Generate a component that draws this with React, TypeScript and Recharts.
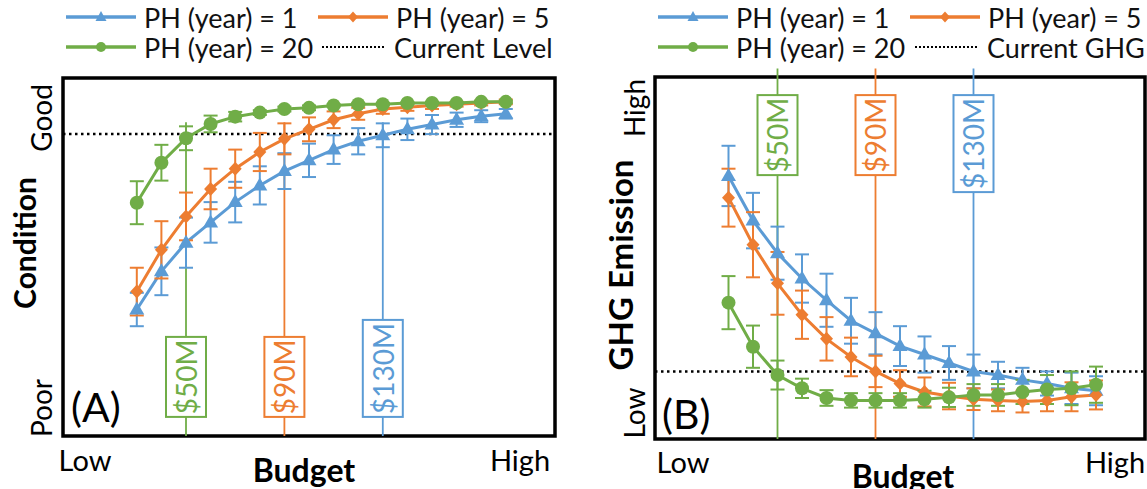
import React from "react";
import {
  LineChart,
  Line,
  XAxis,
  YAxis,
  CartesianGrid,
  ErrorBar,
  ReferenceLine,
  ReferenceArea,
  ReferenceDot,
} from "recharts";

// ─── Data ────────────────────────────────────────────────────────────────────
const budgets = [30, 40, 50, 60, 70, 80, 90, 100, 110, 120, 130, 140, 150, 160, 170, 180];

// (A) condition, 0 = Poor .. 3 = Good
const condPH1 = [1.06, 1.38, 1.62, 1.79, 1.96, 2.1, 2.22, 2.31, 2.4, 2.47, 2.52, 2.57, 2.61, 2.65, 2.68, 2.7];
const condPH1Err = [0.14, 0.2, 0.21, 0.17, 0.17, 0.16, 0.15, 0.14, 0.12, 0.11, 0.1, 0.09, 0.08, 0.06, 0.05, 0.04];
const condPH5 = [1.21, 1.56, 1.84, 2.07, 2.24, 2.38, 2.49, 2.57, 2.65, 2.7, 2.74, 2.755, 2.77, 2.78, 2.79, 2.8];
const condPH5Err = [0.2, 0.24, 0.2, 0.17, 0.16, 0.16, 0.13, 0.1, 0.07, 0.05, 0.04, 0.03, 0.03, 0.02, 0.02, 0.02];
const condPH20 = [1.955, 2.29, 2.495, 2.615, 2.676, 2.71, 2.74, 2.75, 2.77, 2.78, 2.78, 2.79, 2.79, 2.79, 2.8, 2.8];
const condPH20Err = [0.18, 0.15, 0.1, 0.07, 0.04, 0.02, 0.02, 0.02, 0.01, 0.01, 0.01, 0.01, 0.01, 0.01, 0.01, 0.01];
const currentLevel = 2.53;

// (B) GHG emission, 0 = Low .. 3 = High
const ghgPH1 = [2.18, 1.81, 1.54, 1.33, 1.15, 0.98, 0.876, 0.77, 0.7, 0.63, 0.56, 0.53, 0.49, 0.46, 0.42, 0.4];
const ghgPH1Err = [0.25, 0.23, 0.22, 0.2, 0.22, 0.19, 0.175, 0.165, 0.15, 0.14, 0.14, 0.11, 0.1, 0.1, 0.13, 0.12];
const ghgPH5 = [2.0, 1.61, 1.29, 1.03, 0.83, 0.68, 0.56, 0.46, 0.39, 0.356, 0.33, 0.32, 0.31, 0.32, 0.35, 0.365];
const ghgPH5Err = [0.24, 0.27, 0.26, 0.2, 0.18, 0.16, 0.13, 0.11, 0.12, 0.11, 0.09, 0.09, 0.09, 0.09, 0.12, 0.12];
const ghgPH20 = [1.13, 0.765, 0.53, 0.42, 0.34, 0.32, 0.32, 0.32, 0.33, 0.345, 0.365, 0.365, 0.39, 0.41, 0.42, 0.45];
const ghgPH20Err = [0.22, 0.175, 0.12, 0.08, 0.065, 0.06, 0.06, 0.06, 0.07, 0.08, 0.09, 0.09, 0.1, 0.12, 0.14, 0.15];
const currentGhg = 0.56;

const markBudgets = [50, 90, 130];
const markLabels = ["$50M", "$90M", "$130M"];

const xTicks = [0, 50, 100, 150, 200];
const yTicks = [0, 1, 2, 3];

// ─── Style ───────────────────────────────────────────────────────────────────
const BLUE = "#5B9BD5";
const ORANGE = "#ED7D31";
const GREEN = "#70AD47";
const GRID = "#d9d9d9";
const FONT = "Lato, 'Open Sans', sans-serif";
const markColours = [GREEN, ORANGE, BLUE];

function buildRows(a: number[], ae: number[], b: number[], be: number[], c: number[], ce: number[]) {
  return budgets.map((x, i) => ({ x, p1: a[i], e1: ae[i], p5: b[i], e5: be[i], p20: c[i], e20: ce[i] }));
}

const condRows = buildRows(condPH1, condPH1Err, condPH5, condPH5Err, condPH20, condPH20Err);
const ghgRows = buildRows(ghgPH1, ghgPH1Err, ghgPH5, ghgPH5Err, ghgPH20, ghgPH20Err);

// ─── Markers ─────────────────────────────────────────────────────────────────
const triangle = (p: any) => (
  <path
    key={`t${p.index}`}
    d={`M${p.cx},${p.cy - 8}L${p.cx + 7.5},${p.cy + 5}L${p.cx - 7.5},${p.cy + 5}Z`}
    fill={BLUE}
  />
);
const diamond = (p: any) => (
  <path
    key={`d${p.index}`}
    d={`M${p.cx},${p.cy - 7}L${p.cx + 6.5},${p.cy}L${p.cx},${p.cy + 7}L${p.cx - 6.5},${p.cy}Z`}
    fill={ORANGE}
  />
);
const circle = (p: any) => <circle key={`c${p.index}`} cx={p.cx} cy={p.cy} r={7} fill={GREEN} />;

// box with rotated budget text, anchored at its bottom ("up") or top ("down")
function budgetBox(label: string, colour: string, dir: "up" | "down") {
  return (p: any) => {
    const h = 12 + 17 * label.length;
    const y0 = dir === "up" ? p.cy - h : p.cy;
    const ym = y0 + h / 2;
    return (
      <g>
        <rect x={p.cx - 20} y={y0} width={40} height={h} fill="#fff" stroke={colour} strokeWidth={2} />
        <text
          x={p.cx}
          y={ym}
          transform={`rotate(-90 ${p.cx} ${ym})`}
          textAnchor="middle"
          dominantBaseline="central"
          fill={colour}
          fontSize={28}
          fontFamily={FONT}
        >
          {label}
        </text>
      </g>
    );
  };
}

// ─── One panel ───────────────────────────────────────────────────────────────
function Panel({
  rows,
  current,
  width,
  margin,
  panel,
}: {
  rows: any[];
  current: number;
  width: number;
  margin: { top: number; right: number; bottom: number; left: number };
  panel: "A" | "B";
}) {
  return (
    <LineChart width={width} height={489} data={rows} margin={margin}>
      <CartesianGrid stroke={GRID} strokeWidth={2} />
      <XAxis
        dataKey="x"
        type="number"
        domain={[0, 200]}
        ticks={xTicks}
        tick={false}
        tickLine={false}
        axisLine={false}
        height={0}
      />
      <YAxis type="number" domain={[0, 3]} ticks={yTicks} tick={false} tickLine={false} axisLine={false} width={0} />
      {markBudgets.map((b, i) => (
        <ReferenceLine
          key={`l${b}`}
          segment={[
            { x: b, y: 0 },
            { x: b, y: panel === "A" ? 2.63 : 3.07 },
          ]}
          ifOverflow="visible"
          stroke={markColours[i]}
          strokeWidth={1.8}
        />
      ))}
      <ReferenceLine y={current} stroke="#000" strokeWidth={2.5} strokeDasharray="2.5 3.5" />
      <Line dataKey="p1" stroke={BLUE} strokeWidth={3} dot={triangle} isAnimationActive={false}>
        <ErrorBar dataKey="e1" direction="y" width={7} stroke={BLUE} strokeWidth={2} />
      </Line>
      <Line dataKey="p5" stroke={ORANGE} strokeWidth={3} dot={diamond} isAnimationActive={false}>
        <ErrorBar dataKey="e5" direction="y" width={7} stroke={ORANGE} strokeWidth={2} />
      </Line>
      <Line dataKey="p20" stroke={GREEN} strokeWidth={3} dot={circle} isAnimationActive={false}>
        <ErrorBar dataKey="e20" direction="y" width={7} stroke={GREEN} strokeWidth={2} />
      </Line>
      {markBudgets.map((b, i) => (
        <ReferenceDot
          key={`b${b}`}
          x={b}
          y={panel === "A" ? 0.16 : 2.85}
          shape={budgetBox(markLabels[i], markColours[i], panel === "A" ? "up" : "down")}
        />
      ))}
      <ReferenceArea x1={0} x2={200} y1={0} y2={3} fill="none" stroke="#000" strokeWidth={3.5} />
    </LineChart>
  );
}

// ─── Legend and axis texts ───────────────────────────────────────────────────
function LegendRow({
  x,
  y,
  colour,
  kind,
  text,
  len = 70,
}: {
  x: number;
  y: number;
  colour: string;
  kind: string;
  text: string;
  len?: number;
}) {
  const mx = x + len / 2;
  return (
    <g>
      {kind === "dot" ? (
        <line x1={x} x2={x + len} y1={y} y2={y} stroke="#000" strokeWidth={2} strokeDasharray="2 2" />
      ) : (
        <line x1={x} x2={x + len} y1={y} y2={y} stroke={colour} strokeWidth={3.5} />
      )}
      {kind === "tri" && <path d={`M${mx},${y - 6}L${mx + 5.5},${y + 4}L${mx - 5.5},${y + 4}Z`} fill={colour} />}
      {kind === "dia" && <path d={`M${mx},${y - 5.5}L${mx + 5},${y}L${mx},${y + 5.5}L${mx - 5},${y}Z`} fill={colour} />}
      {kind === "cir" && <circle cx={mx} cy={y} r={5} fill={colour} />}
      <text x={x + len + 8} y={y} dominantBaseline="central" fontSize={27} fill="#111">
        {text}
      </text>
    </g>
  );
}

function VText({ x, y, text, size = 27, bold }: { x: number; y: number; text: string; size?: number; bold?: boolean }) {
  return (
    <text
      x={x}
      y={y}
      transform={`rotate(-90 ${x} ${y})`}
      textAnchor="middle"
      dominantBaseline="central"
      fontSize={size}
      fontWeight={bold ? 700 : 400}
      fill="#000"
    >
      {text}
    </text>
  );
}

function Overlay() {
  return (
    <svg
      width={1147}
      height={489}
      style={{ position: "absolute", left: 0, top: 0, pointerEvents: "none", fontFamily: FONT }}
    >
      <LegendRow x={66} y={17} colour={BLUE} kind="tri" text="PH (year) = 1" />
      <LegendRow x={318} y={17} colour={ORANGE} kind="dia" text="PH (year) = 5" />
      <LegendRow x={66} y={47} colour={GREEN} kind="cir" text="PH (year) = 20" />
      <LegendRow x={322} y={47} colour="#000" kind="dot" text="Current Level" len={64} />

      <LegendRow x={658} y={17} colour={BLUE} kind="tri" text="PH (year) = 1" />
      <LegendRow x={910} y={17} colour={ORANGE} kind="dia" text="PH (year) = 5" />
      <LegendRow x={658} y={47} colour={GREEN} kind="cir" text="PH (year) = 20" />
      <LegendRow x={915} y={47} colour="#000" kind="dot" text="Current GHG" len={64} />

      <VText x={41} y={118} text="Good" size={28} />
      <VText x={24} y={243} text="Condition" size={30} bold />
      <VText x={41} y={408} text="Poor" size={28} />
      <text x={85} y={471} textAnchor="middle" fontSize={29}>Low</text>
      <text x={520} y={471} textAnchor="middle" fontSize={29}>High</text>
      <text x={304} y={482} textAnchor="middle" fontSize={32} fontWeight={700}>Budget</text>
      <text x={71} y={422} fontSize={41}>(A)</text>

      <VText x={634} y={108} text="High" size={28} />
      <VText x={620} y={265} text="GHG Emission" size={33} bold />
      <VText x={634} y={413} text="Low" size={28} />
      <text x={683} y={473} textAnchor="middle" fontSize={29}>Low</text>
      <text x={1115} y={473} textAnchor="middle" fontSize={29}>High</text>
      <text x={903} y={488} textAnchor="middle" fontSize={32} fontWeight={700}>Budget</text>
      <text x={662} y={429} fontSize={41}>(B)</text>
    </svg>
  );
}

export default function App() {
  return (
    <div style={{ position: "absolute", left: 0, top: 0, width: 1147, height: 489, background: "#fff", fontFamily: FONT }}>
      <div style={{ position: "absolute", left: 0, top: 0 }}>
        <Panel rows={condRows} current={currentLevel} width={575} margin={{ top: 78, right: 20, bottom: 53, left: 63 }} panel="A" />
      </div>
      <div style={{ position: "absolute", left: 600, top: 0 }}>
        <Panel rows={ghgRows} current={currentGhg} width={547} margin={{ top: 77, right: 2, bottom: 50, left: 55 }} panel="B" />
      </div>
      <Overlay />
    </div>
  );
}
